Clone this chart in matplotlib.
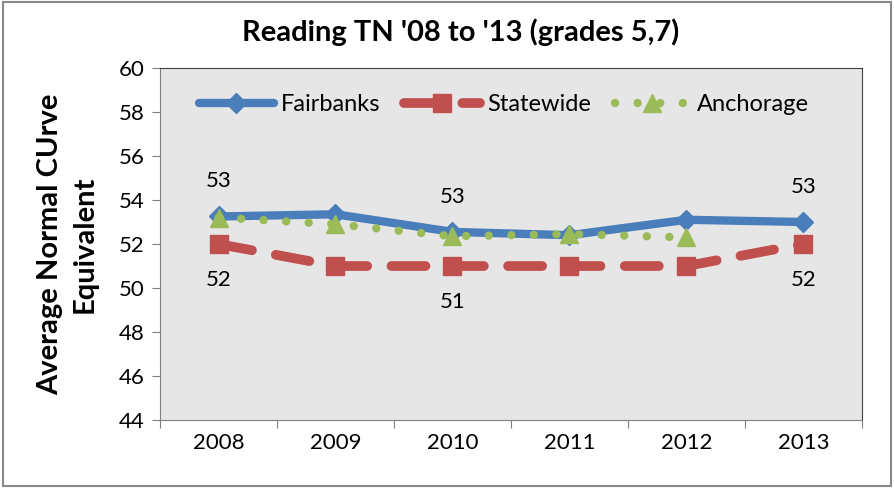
# Reading TN chart
import numpy as np
import matplotlib.pyplot as plt
from matplotlib.patches import Rectangle

plt.rcParams['font.family'] = ['Lato', 'DejaVu Sans']

years = ['2008', '2009', '2010', '2011', '2012', '2013']
fairbanks = [53.25, 53.35, 52.55, 52.4, 53.1, 53.0]
statewide = [52, 51, 51, 51, 51, 52]
anchorage = [53.2, 52.9, 52.35, 52.45, 52.3]
label_idx = [0, 2, 5]

blue = '#4A7EBB'
red = '#C0504D'
green = '#9BBB59'

fig = plt.figure(figsize=(8.94, 4.88), dpi=100)
ax = fig.add_axes([0.179, 0.139, 0.785, 0.722])
ax.set_facecolor('#E6E6E6')

x = np.arange(len(years))
ax.plot(x, fairbanks, color=blue, lw=6, marker='D', ms=10, solid_capstyle='round',
        solid_joinstyle='round', label='Fairbanks', zorder=3)
ax.plot(x, statewide, color=red, lw=7, marker='s', ms=13, dashes=(3.5, 2.5),
        dash_capstyle='round', label='Statewide', zorder=2)
ax.plot(x[:len(anchorage)], anchorage, color=green, lw=6, marker='^', ms=13,
        dashes=(0.01, 2.7), dash_capstyle='round', label='Anchorage', zorder=4)

for i in label_idx:
    ax.annotate(f'{round(fairbanks[i])}', (x[i], fairbanks[i]), xytext=(0, 18),
                textcoords='offset points', ha='center', va='bottom', fontsize=16)
    ax.annotate(f'{statewide[i]}', (x[i], statewide[i]), xytext=(0, -19),
                textcoords='offset points', ha='center', va='top', fontsize=16)

ax.set_xlim(-0.5, 5.5)
ax.set_ylim(44, 60)
ax.set_yticks(np.arange(44, 61, 2))
ax.set_xticks(np.arange(-0.5, 6, 1))
ax.set_xticklabels([])
ax.set_xticks(x, minor=True)
ax.set_xticklabels(years, minor=True)
ax.tick_params(axis='x', which='minor', length=0, pad=9, labelsize=16)
ax.tick_params(axis='x', which='major', length=6, direction='out', color='#808080')
ax.tick_params(axis='y', length=6, direction='out', color='#808080', labelsize=16, pad=5)
for s in ax.spines.values():
    s.set_color('#808080')
ax.spines['top'].set_color('#404040')
ax.spines['right'].set_color('#404040')

ax.set_ylabel('Average Normal CUrve\nEquivalent', fontsize=21, fontweight='bold',
              labelpad=15, linespacing=1.4)
fig.text(0.515, 0.935, "Reading TN '08 to '13 (grades 5,7)", ha='center', va='center',
         fontsize=21, fontweight='bold')

ax.legend(loc='upper center', bbox_to_anchor=(0.49, 0.985), ncol=3, frameon=False,
          fontsize=17, handlelength=3.2, columnspacing=1.0, handletextpad=0.3)

fig.add_artist(Rectangle((0.003, 0.004), 0.994, 0.992, transform=fig.transFigure,
                         fill=False, edgecolor='#888888', lw=1.5))

fig.savefig('out.png', dpi=100)
